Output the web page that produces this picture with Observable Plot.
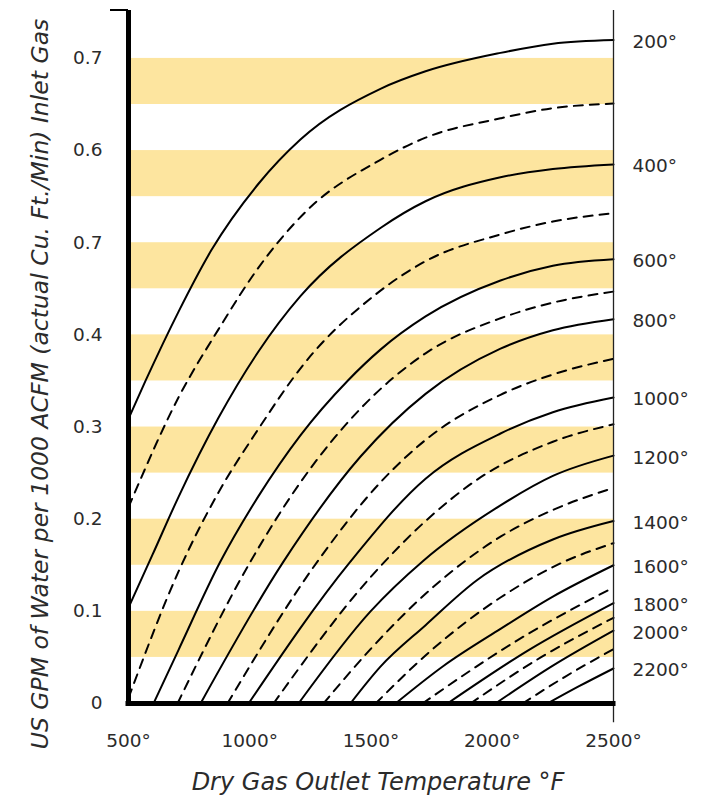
<!DOCTYPE html>
<html><head><meta charset="utf-8">
<script src="https://cdn.jsdelivr.net/npm/d3@7"></script>
<script src="https://cdn.jsdelivr.net/npm/@observablehq/plot@0.6"></script>
<style>html,body{margin:0;padding:0;background:#fff;} svg{display:block}</style>
</head><body><div id="chart"></div>
<script>
// ---- axis ticks / labels ----
const xTicks = [500, 1000, 1500, 2000, 2500];
const xTickLabels = ["500°", "1000°", "1500°", "2000°", "2500°"];
const yTicks = [0, 0.1, 0.2, 0.3, 0.4, 0.5, 0.6, 0.7];
const yTickLabels = ["0", "0.1", "0.2", "0.3", "0.4", "0.7", "0.6", "0.7"];
const yMax = 0.752;
// ---- shaded bands ----
const bandLow = [0.05, 0.15, 0.25, 0.35, 0.45, 0.55, 0.65];
const bandHigh = [0.10, 0.20, 0.30, 0.40, 0.50, 0.60, 0.70];
// ---- solid curves (labelled) ----
const solidLabels = ["200°", "400°", "600°", "800°", "1000°", "1200°", "1400°", "1600°", "1800°", "2000°", "2200°"];
const s200 = [[500,.309],[570,.35],[706,.425],[842,.492],[1036,.564],[1209,.612],[1539,.667],[1725,.686],[2034,.706],[2250,.716],[2500,.72]];
const s400 = [[500,.104],[600,.162],[706,.224],[871,.31],[1036,.382],[1209,.442],[1539,.516],[1725,.545],[2034,.571],[2250,.58],[2500,.585]];
const s600 = [[603,0],[706,.058],[879,.154],[1036,.225],[1209,.291],[1403,.35],[1539,.384],[1725,.42],[2034,.459],[2250,.475],[2500,.482]];
const s800 = [[797,0],[1139,.154],[1457,.268],[1725,.336],[2034,.385],[2250,.405],[2500,.417]];
const s1000 = [[995,0],[1415,.154],[1725,.244],[2034,.293],[2250,.316],[2500,.332]];
const s1200 = [[1201,0],[1498,.10],[1716,.155],[2034,.215],[2250,.247],[2500,.269]];
const s1400 = [[1415,0],[1539,.04],[1725,.085],[1938,.134],[2250,.178],[2500,.198]];
const s1600 = [[1601,0],[1800,.041],[2034,.081],[2250,.116],[2500,.15]];
const s1800 = [[1815,0],[2150,.058],[2500,.109]];
const s2000 = [[2013,0],[2250,.041],[2500,.079]];
const s2200 = [[2228,0],[2360,.019],[2500,.038]];
// ---- dashed curves (in between) ----
const d300 = [[500,.213],[706,.332],[871,.406],[1036,.473],[1236,.535],[1539,.590],[1725,.614],[2034,.635],[2250,.646],[2500,.651]];
const d500 = [[500,.006],[706,.143],[871,.229],[1036,.298],[1222,.368],[1510,.442],[1725,.48],[2034,.509],[2250,.523],[2500,.532]];
const d700 = [[702,0],[1003,.154],[1209,.24],[1457,.32],[1725,.38],[2034,.418],[2250,.435],[2500,.447]];
const d900 = [[908,0],[1279,.154],[1539,.24],[1725,.286],[2034,.335],[2250,.357],[2500,.374]];
const d1100 = [[1098,0],[1498,.137],[1725,.198],[1938,.243],[2250,.284],[2500,.303]];
const d1300 = [[1304,0],[1498,.059],[1725,.119],[2034,.181],[2250,.21],[2500,.234]];
const d1500 = [[1519,0],[1750,.058],[2034,.115],[2281,.152],[2500,.174]];
const d1700 = [[1712,0],[2100,.068],[2500,.126]];
const d1900 = [[1910,0],[2200,.05],[2500,.093]];
const d2100 = [[2125,0],[2300,.029],[2500,.059]];

const solidSets = [s200, s400, s600, s800, s1000, s1200, s1400, s1600, s1800, s2000, s2200];
const dashedSets = [d300, d500, d700, d900, d1100, d1300, d1500, d1700, d1900, d2100];

const solidRows = solidSets.flatMap((pts, i) => pts.map(([x, y]) => ({x, y, curve: solidLabels[i]})));
const dashedRows = dashedSets.flatMap((pts, i) => pts.map(([x, y]) => ({x, y, curve: "d" + i})));
const endRows = solidSets.map((pts, i) => ({x: pts[pts.length - 1][0], y: pts[pts.length - 1][1], label: solidLabels[i]}));
const bands = bandLow.map((lo, i) => ({lo, hi: bandHigh[i]}));

const FONT = "'DejaVu Sans', sans-serif";
const TXT = "#2b2b2b";

const chart = Plot.plot({
  width: 721,
  height: 799,
  marginLeft: 128,
  marginRight: 108,
  marginTop: 10,
  marginBottom: 96,
  x: {domain: [xTicks[0], xTicks[xTicks.length - 1]], axis: null},
  y: {domain: [0, yMax], axis: null},
  style: {fontFamily: FONT, fontSize: "18.5px", background: "#fff", overflow: "visible"},
  marks: [
    Plot.rect(bands, {x1: xTicks[0], x2: xTicks[xTicks.length - 1], y1: "lo", y2: "hi", fill: "#fde59f"}),
    Plot.line(solidRows, {x: "x", y: "y", z: "curve", stroke: "#000", strokeWidth: 2, curve: "monotone-x"}),
    Plot.line(dashedRows, {x: "x", y: "y", z: "curve", stroke: "#000", strokeWidth: 2, strokeDasharray: "9,7", curve: "monotone-x"}),
    Plot.ruleX([xTicks[xTicks.length - 1]], {y1: -0.021, y2: yMax, stroke: "#222", strokeWidth: 1.3}),
    Plot.ruleX([xTicks[0]], {y1: 0, y2: yMax, stroke: "#000", strokeWidth: 5}),
    Plot.ruleY([0], {x1: xTicks[0], x2: xTicks[xTicks.length - 1], stroke: "#000", strokeWidth: 5, strokeLinecap: "square"}),
    Plot.text(yTicks, {x: xTicks[0], y: d => d, text: (d, i) => yTickLabels[i], dx: -26, textAnchor: "end", fill: TXT, fontSize: 18.5}),
    Plot.text(xTicks, {x: d => d, y: 0, text: (d, i) => xTickLabels[i], dy: 38, fill: TXT, fontSize: 18.5}),
    Plot.text(endRows, {x: "x", y: "y", text: "label", dx: 19, dy: 2, textAnchor: "start", fill: TXT, fontSize: 18.5})
  ]
});

const svg = d3.select(chart);
const xs = chart.scale("x"), ys = chart.scale("y");
// small cap tick at the top of the y axis
svg.append("line")
  .attr("x1", xs.apply(xTicks[0]) - 18).attr("x2", xs.apply(xTicks[0]))
  .attr("y1", ys.apply(yMax)).attr("y2", ys.apply(yMax))
  .attr("stroke", "#000").attr("stroke-width", 2);
// axis titles
svg.append("text")
  .attr("transform", "translate(48,384) rotate(-90)")
  .attr("text-anchor", "middle")
  .attr("font-style", "italic").attr("font-size", 23.5).attr("fill", TXT)
  .attr("font-family", FONT)
  .text("US GPM of Water per 1000 ACFM (actual Cu. Ft./Min) Inlet Gas");
svg.append("text")
  .attr("x", 378).attr("y", 790)
  .attr("text-anchor", "middle")
  .attr("font-style", "italic").attr("font-size", 24).attr("fill", TXT)
  .attr("font-family", FONT)
  .text("Dry Gas Outlet Temperature °F");

document.getElementById("chart").appendChild(chart);
</script>
</body></html>
